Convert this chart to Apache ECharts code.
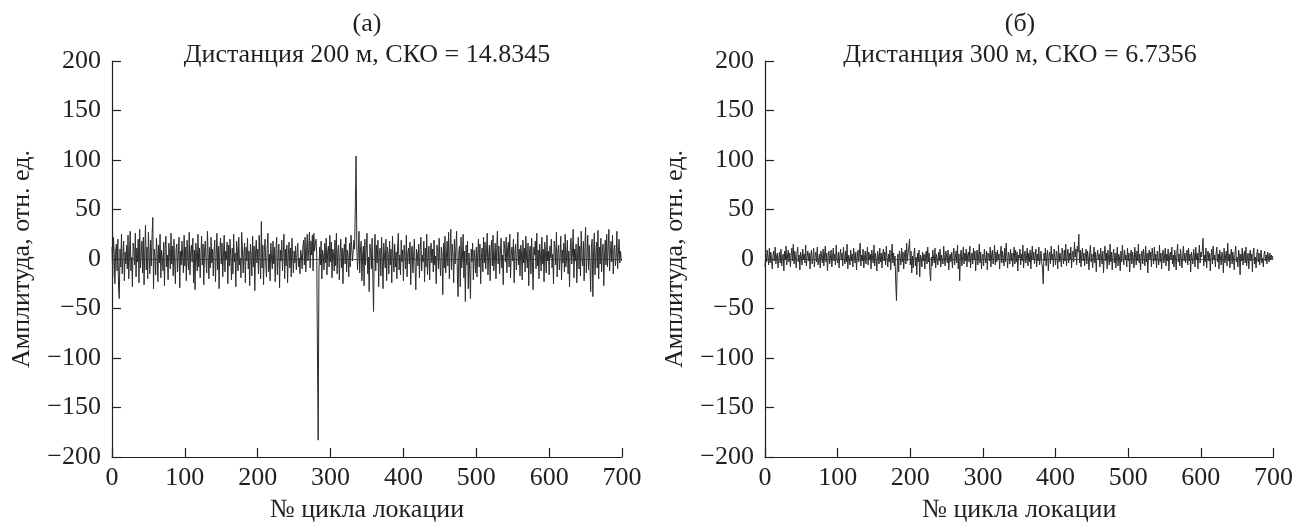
<!DOCTYPE html>
<html>
<head>
<meta charset="utf-8">
<script src="https://cdn.jsdelivr.net/npm/echarts@6/dist/echarts.min.js"></script>
<style>html,body{margin:0;padding:0;background:#fff;}#c{width:1296px;height:528px;}</style>
</head>
<body>
<div id="c"></div>
<script>
const panelLabels = ['(а)', '(б)'];
const panelTitles = ['Дистанция 200 м, СКО = 14.8345', 'Дистанция 300 м, СКО = 6.7356'];
const xAxisTitle = '№ цикла локации';
const yAxisTitle = 'Амплитуда, отн. ед.';
const xTicks = [0, 100, 200, 300, 400, 500, 600, 700];
const yTicks = [-200, -150, -100, -50, 0, 50, 100, 150, 200];

// amplitude per location cycle, cycles 0..699
const amp200 = [
12,-18,22,5,-25,8,15,-12,20,-30,-40,10,-8,25,-15,3,18,-22,7,-5,
14,-10,24,-20,6,28,-12,2,-28,16,9,-6,26,-18,11,-3,20,-24,30,-9,
5,18,-14,22,-26,8,34,-11,12,-20,27,3,-15,19,-7,24,42,-30,10,2,
-16,21,6,-23,14,-4,25,-19,9,1,-12,17,-27,11,23,-8,4,-21,16,7,
-10,26,-5,13,-17,20,-2,-25,10,15,-13,5,22,-29,8,-6,18,3,-14,24,
-7,12,-22,19,1,-11,27,-16,6,14,-3,21,-24,9,-31,16,4,-12,25,-8,
11,-19,3,23,-6,15,-26,8,18,-2,-14,28,5,-20,12,-9,22,-4,10,-17,
7,19,-23,2,26,-11,13,-30,9,21,-5,16,-18,4,24,-13,8,-1,17,-25,
14,-7,20,3,-21,11,-15,25,-3,6,-28,18,9,-12,22,-6,1,-19,27,10,
-14,5,16,-24,12,-2,21,-10,8,-27,15,3,-17,23,-8,13,-32,6,19,-4,
10,-15,24,2,-20,38,-9,14,-26,7,20,-3,-18,11,26,-13,5,-22,16,1,
-10,18,-5,12,-23,7,22,-16,3,15,-29,9,-2,19,-12,6,25,-20,10,-7,
14,-24,4,17,-9,11,-18,21,2,-14,8,-4,13,-11,5,16,-8,1,-15,9,
3,-10,12,19,-6,22,-13,7,25,-2,10,27,-9,18,4,24,-12,26,8,15,
20,5,-95,-183,-14,12,-6,18,-20,9,3,-11,16,-4,21,-16,7,13,-8,24,
-3,17,-19,10,5,-12,19,-7,26,-15,8,14,-21,2,20,-9,11,-25,6,15,
-5,22,-13,9,3,-18,16,-8,24,12,-2,7,19,10,55,104,14,-11,6,28,
-14,9,18,-22,4,13,-27,20,-6,11,26,-15,2,-33,15,7,-10,21,-19,-53,
8,25,-12,14,-4,19,-28,6,11,-17,22,-1,-30,16,3,-9,20,-22,12,5,
-15,18,-6,10,-24,23,1,-13,15,-8,7,-20,12,26,-11,4,-16,19,-3,9,
-22,14,2,-10,24,-18,6,11,-5,17,-26,8,13,-14,3,20,-9,-31,10,5,
-7,15,-19,9,22,-12,4,-3,18,-23,11,-8,25,-16,1,13,-21,7,16,-4,
10,-13,19,-6,3,-25,14,8,-10,21,-2,-17,12,5,-36,16,-9,23,-14,2,
18,-7,27,-20,9,30,-11,15,4,-24,20,-5,11,28,-15,-38,7,13,-28,22,
-9,3,25,-19,8,-43,14,-6,18,-30,6,-12,-40,10,-3,16,-21,9,1,-14,
12,-18,5,20,-8,15,-25,2,11,-13,22,-4,17,-10,7,26,-16,3,14,-22,
8,19,-7,24,-12,1,16,-20,10,28,-5,13,-15,6,21,-9,4,-26,18,11,
-3,22,-14,9,17,-8,25,-19,5,12,-2,20,-24,7,15,-11,3,27,-6,10,
-17,14,6,-21,19,-4,11,-13,23,2,-9,16,-27,8,13,-15,21,-1,-31,12,
4,18,-10,26,-7,9,-20,15,3,-12,22,-5,10,-23,17,6,-14,24,-2,8,
-16,13,1,20,-9,5,-25,18,11,-6,27,-18,7,14,-11,2,23,-21,9,-4,
16,-13,25,-8,3,19,-15,8,-28,12,21,-5,6,30,-19,10,-2,15,-24,4,
22,-10,13,-17,28,1,-7,18,-22,9,32,-14,5,24,-11,14,-3,-33,11,20,
-38,7,26,-16,4,17,-9,29,-20,12,-5,21,-13,8,15,-27,3,19,-6,25,
-8,11,30,-12,5,18,-3,24,-15,9,14,-7,2,28,-10,6,20,-4,8,-2
];

const amp300 = [
-8,5,-3,9,2,-6,11,-4,7,0,-10,4,8,-2,12,-5,3,6,-9,1,
7,-4,10,-7,2,5,-12,8,-1,13,-6,3,9,-3,6,-8,4,11,-2,15,
-5,8,1,-9,6,12,-3,4,-11,7,2,-6,10,-1,5,-4,14,-7,3,8,
-2,6,-10,4,9,-5,1,11,-8,3,7,-3,12,-6,0,5,-9,8,2,-4,
10,-7,4,13,-3,6,-12,2,8,-5,1,9,-8,3,11,-2,5,-6,14,0,
-4,7,-9,3,10,-1,6,-7,12,2,-5,8,-3,15,-10,4,1,-6,9,-2,
5,-8,11,3,-4,7,-11,2,9,-3,6,16,-7,4,-2,10,-9,1,8,-5,
3,12,-6,7,-1,5,-10,9,2,-4,14,-7,6,0,-12,8,3,-5,11,-3,
6,-9,4,10,-2,7,-6,13,1,-8,5,-3,9,-11,2,15,-4,6,-7,3,
-25,-42,-8,5,-13,8,2,-6,11,-3,7,-10,4,9,-5,16,-2,6,12,20,
-6,8,-14,3,-9,5,11,-7,2,-16,6,-3,9,-18,4,1,-8,7,-2,5,
-10,3,8,-5,12,-3,6,-13,-22,2,-7,9,1,-4,11,-9,5,3,-6,7,
-2,10,-8,4,6,-5,13,0,-7,8,3,-4,9,-11,2,5,-3,7,-9,4,
11,-6,2,8,-4,14,-10,5,-22,3,9,-7,1,12,-5,6,-2,10,-8,4,
7,-3,13,-9,2,6,-5,11,-1,8,-12,4,9,-6,3,15,-4,7,-10,2,
5,-7,10,1,-4,8,-11,6,3,-2,12,-8,4,9,-5,2,14,-6,7,-3,
9,-1,5,-10,6,13,-4,8,1,-7,11,-3,16,2,-9,7,4,-5,10,-2,
6,-8,3,12,-5,9,-3,7,-12,4,1,10,-6,5,-2,14,-9,3,8,-4,
2,11,-7,6,-3,9,-10,4,13,-1,7,-5,3,10,-8,5,-2,12,-6,1,
8,-4,-9,-25,6,-2,11,-7,4,9,-12,3,7,-5,13,-1,5,-8,10,2,
-6,8,3,-10,14,-3,6,1,-8,11,4,-5,9,-2,15,-7,3,10,-4,6,
-1,12,-9,5,8,-3,17,2,10,-6,13,7,25,-4,9,-8,4,11,-2,6,
-7,3,10,-5,8,1,-11,6,14,-3,5,-9,2,12,-4,7,-13,3,9,-1,
5,-8,11,2,-5,8,-14,4,13,-2,6,-10,9,1,-6,15,-3,7,-11,4,
10,-4,6,-9,3,12,-7,5,1,-12,8,-3,14,2,-6,9,-1,4,-8,11,
-2,6,-13,3,9,-5,7,1,-9,12,4,-6,8,-2,15,-4,5,-11,3,8,
-5,10,2,-7,13,-3,6,-14,4,9,-1,7,-8,11,3,-5,12,-2,5,-9,
8,1,-6,14,-3,6,-10,4,9,-4,2,11,-7,5,-2,10,-12,3,7,-1,
12,-5,4,-8,9,2,-11,6,15,-3,5,-7,10,1,-9,4,13,-2,6,-4,
3,9,-6,11,-2,5,-13,7,1,-5,10,4,-8,12,-1,6,-10,3,14,-4,
7,2,9,21,-7,4,-3,11,-9,5,8,-2,6,-12,3,10,-5,13,-1,4,
-8,6,12,-3,5,-10,9,1,-6,7,3,-14,11,-4,2,8,-7,16,-2,5,
-9,4,10,-5,7,0,-11,6,13,-3,2,-8,9,4,-16,5,-2,11,-6,3,
8,-4,12,-7,1,6,-10,3,9,-2,5,-13,7,11,-5,2,-9,4,10,-3,
6,-6,3,9,-4,1,-8,5,8,-2,4,-5,7,2,-3,6,-1,4,0,3
];

const FONT = 'Liberation Serif';
const FS = 26;
const INK = '#231f20';
const chart = echarts.init(document.getElementById('c'), null, {renderer: 'canvas'});

function fmtY(v) { return String(v).replace('-', '\u2212'); }

const grids = [
  {left: 112, right: 674, top: 61, bottom: 65},
  {left: 765, right: 21, top: 61, bottom: 65}
];

function xAx(i) {
  return {
    gridIndex: i, type: 'value', min: xTicks[0], max: xTicks[xTicks.length - 1], interval: 100,
    name: xAxisTitle, nameLocation: 'middle', nameGap: 40,
    nameTextStyle: {fontFamily: FONT, fontSize: FS, color: INK},
    axisLine: {show: true, onZero: false, lineStyle: {color: INK, width: 1.2}},
    axisTick: {show: true, inside: true, length: 9, lineStyle: {color: INK, width: 1.2}},
    axisLabel: {fontFamily: FONT, fontSize: FS, color: INK, margin: 8},
    splitLine: {show: false}
  };
}
function yAx(i) {
  return {
    gridIndex: i, type: 'value', min: yTicks[0], max: yTicks[yTicks.length - 1], interval: 50,
    name: yAxisTitle, nameLocation: 'middle', nameGap: 77, nameRotate: 90,
    nameTextStyle: {fontFamily: FONT, fontSize: FS, color: INK},
    axisLine: {show: true, lineStyle: {color: INK, width: 1.2}},
    axisTick: {show: true, inside: true, length: 9, lineStyle: {color: INK, width: 1.2}},
    axisLabel: {fontFamily: FONT, fontSize: FS, color: INK, margin: 11, formatter: fmtY},
    splitLine: {show: false}
  };
}

const seriesData = [amp200, amp300].map(a => a.map((v, k) => [k, v]));
const tFont = FS + 'px "' + FONT + '"';
const zeroLine = {silent: true, symbol: 'none', label: {show: false},
  lineStyle: {color: '#333', width: 0.8, type: 'solid'}, data: [{yAxis: 0}]};

chart.setOption({
  animation: false,
  backgroundColor: '#fff',
  grid: grids,
  xAxis: [xAx(0), xAx(1)],
  yAxis: [yAx(0), yAx(1)],
  graphic: [
    {type: 'text', x: 367, y: 24, style: {text: panelLabels[0], font: tFont, fill: INK, textAlign: 'center', textVerticalAlign: 'middle'}},
    {type: 'text', x: 367, y: 55, style: {text: panelTitles[0], font: tFont, fill: INK, textAlign: 'center', textVerticalAlign: 'middle'}},
    {type: 'text', x: 1020, y: 24, style: {text: panelLabels[1], font: tFont, fill: INK, textAlign: 'center', textVerticalAlign: 'middle'}},
    {type: 'text', x: 1020, y: 55, style: {text: panelTitles[1], font: tFont, fill: INK, textAlign: 'center', textVerticalAlign: 'middle'}}
  ],
  series: [
    {type: 'line', xAxisIndex: 0, yAxisIndex: 0, data: seriesData[0], showSymbol: false, symbol: 'none',
     lineStyle: {color: '#2b2b2b', width: 1}, markLine: zeroLine},
    {type: 'line', xAxisIndex: 1, yAxisIndex: 1, data: seriesData[1], showSymbol: false, symbol: 'none',
     lineStyle: {color: '#2b2b2b', width: 1}, markLine: zeroLine}
  ]
});
</script>
</body>
</html>
